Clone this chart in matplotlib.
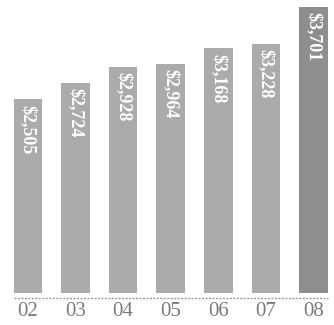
import matplotlib

matplotlib.use("Agg")
import matplotlib.pyplot as plt  # noqa: E402

years = ["02", "03", "04", "05", "06", "07", "08"]
revenue = [2505, 2724, 2928, 2964, 3168, 3228, 3701]
labels = ["$2,505", "$2,724", "$2,928", "$2,964", "$3,168", "$3,228", "$3,701"]
bar_colors = ["#ababab"] * 6 + ["#8e8e8e"]

serif = ["Liberation Serif", "DejaVu Serif"]

fig = plt.figure(figsize=(3.34, 3.25), dpi=100)
ax = fig.add_axes([0, 0, 1, 1])
x = list(range(len(years)))
ax.bar(x, revenue, width=0.6, color=bar_colors, linewidth=0)

# value labels run down from the top of each bar
for xi, val, text in zip(x, revenue, labels):
    ax.text(xi, val - 70, text, rotation=270, ha="center", va="top",
            color="white", fontsize=13, fontweight="bold", family=serif)

# dotted baseline and year labels underneath
ax.plot([-0.3, 6.3], [-65, -65], color="#9a9a9a", linewidth=1.0,
        linestyle=(0, (1.5, 1)))
for xi, yr in zip(x, years):
    ax.text(xi, -239, yr, ha="center", va="center", color="#7a7a7a",
            fontsize=15, family=serif)

ax.set_xlim(-0.588, 6.431)
ax.set_ylim(-414, 3792)
ax.axis("off")
fig.savefig("out.png", dpi=100)
